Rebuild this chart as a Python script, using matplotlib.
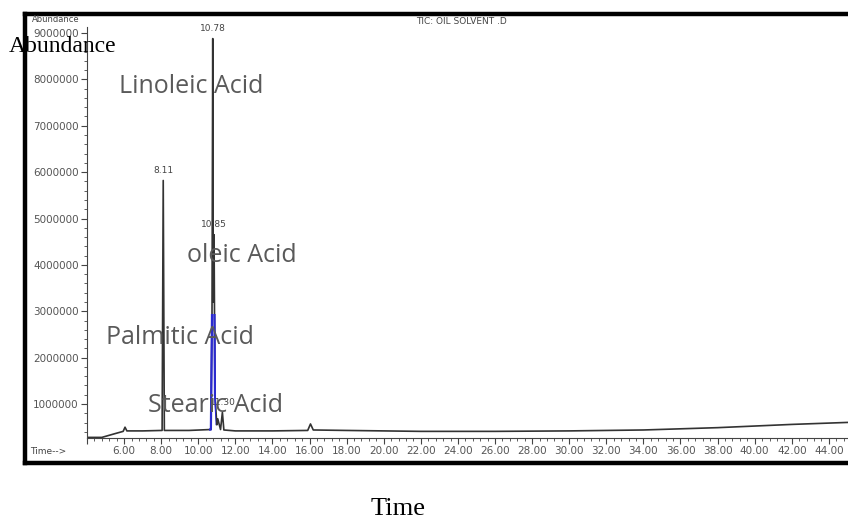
import matplotlib
matplotlib.use('Agg')
import matplotlib.pyplot as plt
import matplotlib.ticker as ticker
from matplotlib.patches import Rectangle

# chromatogram trace (time in min, abundance)
times = [4.0, 4.8, 5.5, 5.95, 6.05, 6.15, 7.0, 8.05, 8.11, 8.17, 9.5, 10.68,
         10.74, 10.78, 10.81, 10.85, 10.90, 11.00, 11.05, 11.20, 11.30, 11.38,
         12.0, 14.0, 15.9, 16.05, 16.2, 18.0, 22.0, 26.0, 30.0, 34.0, 38.0,
         42.0, 45.5]
abundance = [280000, 280000, 360000, 410000, 500000, 420000, 420000, 430000,
             5820000, 430000, 430000, 450000, 2900000, 8880000, 3200000,
             4650000, 1200000, 550000, 680000, 450000, 820000, 440000, 420000,
             420000, 430000, 570000, 440000, 430000, 410000, 410000, 420000,
             440000, 490000, 560000, 610000]

# labelled peaks
peak_times = [8.11, 10.78, 10.85, 11.30]
peak_values = [5820000, 8880000, 4650000, 820000]
peak_labels = ['8.11', '10.78', '10.85', '11.30']

# compound names written over the chart
compounds = ['Linoleic Acid', 'oleic Acid', 'Palmitic Acid', 'Stearic Acid']

fig = plt.figure(figsize=(8.48, 5.2), dpi=100)

# thick outer frame
frame = fig.add_axes([25/848, 57/520, 1.0, 449/520])
frame.set_xticks([])
frame.set_yticks([])
for s in frame.spines.values():
    s.set_linewidth(3.2)
    s.set_color('black')

ax = fig.add_axes([87/848, 82/520, 0.90, 411/520])
ax.patch.set_alpha(0)
ax.plot(times, abundance, color='#333333', lw=1.2)
# blue part at the base of the big peak
blue, = ax.plot(times, abundance, color='#2a2ad0', lw=1.6)
clip = Rectangle((10.6, 0), 0.35, 2950000, transform=ax.transData)
blue.set_clip_path(clip)

ax.set_xlim(4.0, 45.15)
ax.set_ylim(267000, 9130000)
ax.spines['top'].set_visible(False)
ax.spines['right'].set_visible(False)
ax.spines['left'].set_color('#444444')
ax.spines['bottom'].set_color('#444444')

ax.xaxis.set_major_locator(ticker.MultipleLocator(2))
ax.xaxis.set_minor_locator(ticker.MultipleLocator(0.4))
ax.xaxis.set_major_formatter(ticker.FuncFormatter(lambda v, p: '%.2f' % v if v >= 6 else ''))
ax.yaxis.set_major_locator(ticker.MultipleLocator(1000000))
ax.yaxis.set_minor_locator(ticker.MultipleLocator(200000))
ax.yaxis.set_major_formatter(ticker.FuncFormatter(lambda v, p: '%d' % v if v >= 1000000 else ''))
ax.tick_params(axis='both', which='major', labelsize=7.5, labelcolor='#555555',
               color='#444444', length=4, pad=2)
ax.tick_params(axis='both', which='minor', color='#444444', length=2.5)

for t, v, lab in zip(peak_times, peak_values, peak_labels):
    ax.annotate(lab, (t, v), xytext=(0, 4), textcoords='offset points',
                ha='center', va='bottom', fontsize=6.5, color='#444444')

name_pos = [(9.61, 7850000), (12.33, 4210000), (8.99, 2440000), (10.93, 960000)]
for name, (x, y) in zip(compounds, name_pos):
    ax.text(x, y, name, ha='center', va='center', fontsize=18,
            color='#5a5a5a', family='Open Sans')

fig.text(56/848, 1 - 20/520, 'Abundance', ha='center', va='center',
         fontsize=6, color='#444444')
fig.text(461/848, 1 - 22/520, 'TIC: OIL SOLVENT .D', ha='center', va='center',
         fontsize=6.5, color='#444444')
fig.text(48/848, 1 - 452/520, 'Time-->', ha='center', va='center',
         fontsize=6.5, color='#444444')

fig.text(63/848, 1 - 47/520, 'Abundance', ha='center', va='center',
         fontsize=17, family='Liberation Serif', color='black')
fig.text(398/848, 1 - 509/520, 'Time', ha='center', va='center',
         fontsize=19, family='Liberation Serif', color='black')

fig.savefig('out.png', dpi=100)
